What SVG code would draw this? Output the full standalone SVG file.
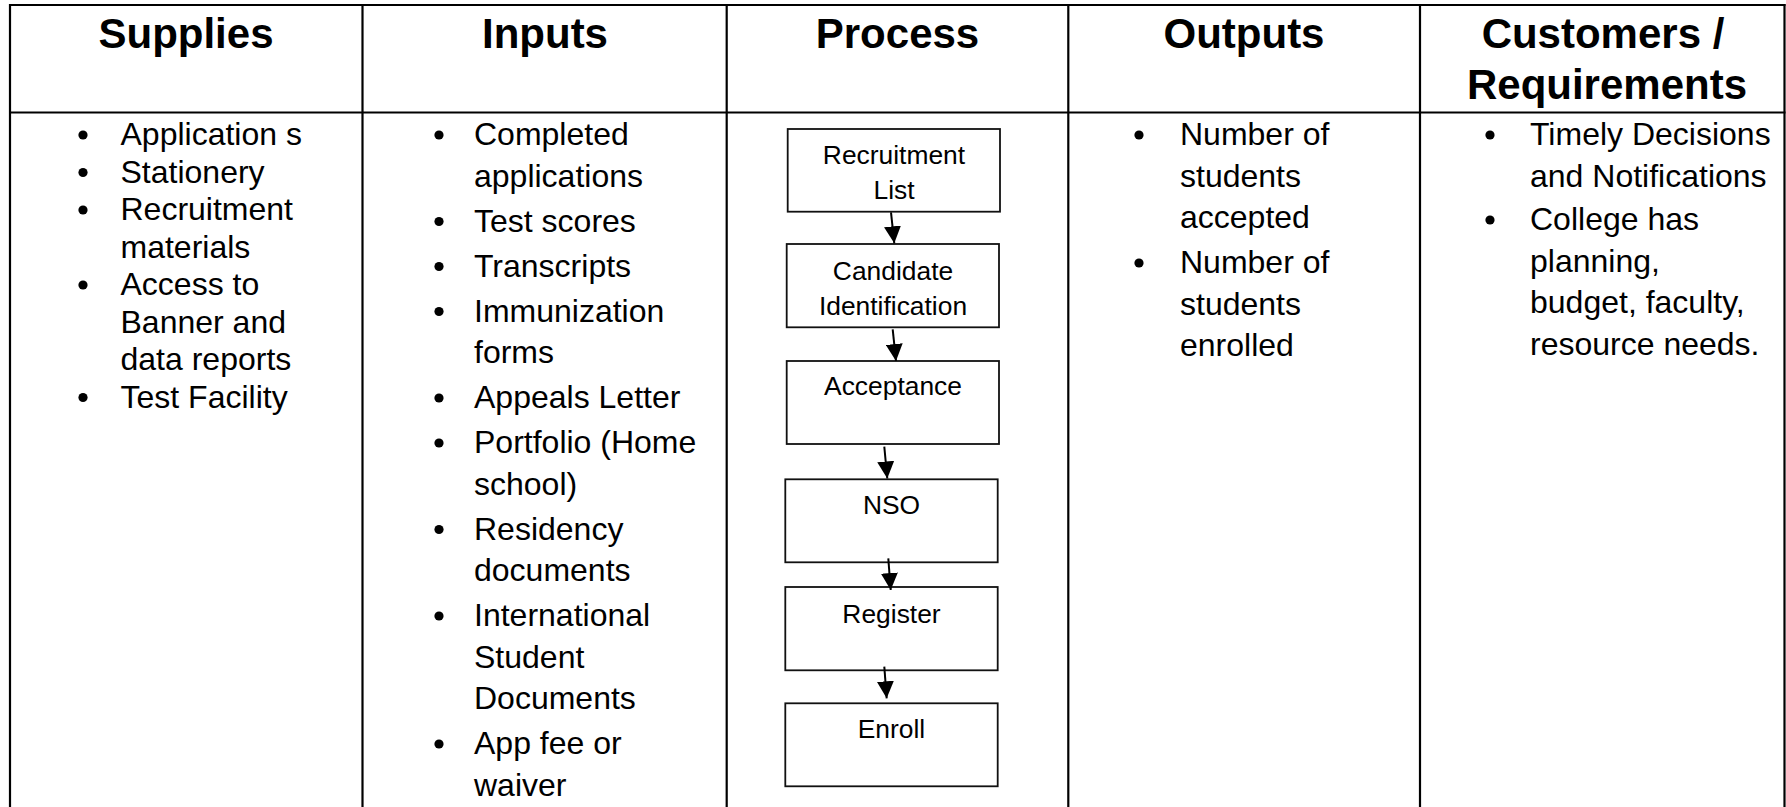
<svg xmlns="http://www.w3.org/2000/svg" width="1786" height="807" viewBox="0 0 1786 807">
<style>
.grid{stroke:#000;stroke-width:2.2;fill:none}
.hd{font-family:"Liberation Sans",Arial,sans-serif;font-weight:bold;font-size:42px;fill:#000;text-anchor:middle}
.tx{font-family:"Liberation Sans",Arial,sans-serif;font-size:32px;fill:#000}
.bx{fill:#fff;stroke:#111;stroke-width:1.8}
.bt{font-family:"Liberation Sans",Arial,sans-serif;font-size:26.4px;fill:#000;text-anchor:middle}
.ar{stroke:#000;stroke-width:2;fill:none}
.bu{fill:#000}
</style>
<defs>
<marker id="ah" markerUnits="userSpaceOnUse" markerWidth="17" markerHeight="17" viewBox="0 0 16 16" refX="16" refY="8" orient="auto">
<path d="M0,0 L16,8 L0,16 z" fill="#000"/>
</marker>
</defs>
<rect width="1786" height="807" fill="#fff"/>
<g id="table">
<line class="grid" x1="9" y1="5" x2="1785.5" y2="5"/>
<line class="grid" x1="9" y1="112.5" x2="1785.5" y2="112.5"/>
<line class="grid" x1="10" y1="4" x2="10" y2="807"/>
<line class="grid" x1="362.5" y1="4" x2="362.5" y2="807"/>
<line class="grid" x1="726.7" y1="4" x2="726.7" y2="807"/>
<line class="grid" x1="1068.3" y1="4" x2="1068.3" y2="807"/>
<line class="grid" x1="1420" y1="4" x2="1420" y2="807"/>
<line class="grid" x1="1784.5" y1="4" x2="1784.5" y2="807"/>
</g>
<g id="headers">
<text class="hd" x="186" y="48">Supplies</text>
<text class="hd" x="545" y="48">Inputs</text>
<text class="hd" x="897.5" y="48">Process</text>
<text class="hd" x="1244" y="48">Outputs</text>
<text class="hd" x="1603" y="48">Customers /</text>
<text class="hd" x="1607" y="98.5">Requirements</text>
</g>
<g id="supplies">
<circle class="bu" cx="83" cy="135" r="4.6"/>
<circle class="bu" cx="83" cy="172.5" r="4.6"/>
<circle class="bu" cx="83" cy="210" r="4.6"/>
<circle class="bu" cx="83" cy="285" r="4.6"/>
<circle class="bu" cx="83" cy="397.5" r="4.6"/>
<text class="tx" x="120.5" y="145">Application s</text>
<text class="tx" x="120.5" y="182.5">Stationery</text>
<text class="tx" x="120.5" y="220">Recruitment</text>
<text class="tx" x="120.5" y="257.5">materials</text>
<text class="tx" x="120.5" y="295">Access to</text>
<text class="tx" x="120.5" y="332.5">Banner and</text>
<text class="tx" x="120.5" y="370">data reports</text>
<text class="tx" x="120.5" y="407.5">Test Facility</text>
</g>
<g id="inputs">
<circle class="bu" cx="439" cy="135" r="4.6"/>
<circle class="bu" cx="439" cy="221.5" r="4.6"/>
<circle class="bu" cx="439" cy="266.5" r="4.6"/>
<circle class="bu" cx="439" cy="311.5" r="4.6"/>
<circle class="bu" cx="439" cy="398" r="4.6"/>
<circle class="bu" cx="439" cy="443" r="4.6"/>
<circle class="bu" cx="439" cy="529.5" r="4.6"/>
<circle class="bu" cx="439" cy="616" r="4.6"/>
<circle class="bu" cx="439" cy="744" r="4.6"/>
<text class="tx" x="474" y="145">Completed</text>
<text class="tx" x="474" y="186.5">applications</text>
<text class="tx" x="474" y="231.5">Test scores</text>
<text class="tx" x="474" y="276.5">Transcripts</text>
<text class="tx" x="474" y="321.5">Immunization</text>
<text class="tx" x="474" y="363">forms</text>
<text class="tx" x="474" y="408">Appeals Letter</text>
<text class="tx" x="474" y="453">Portfolio (Home</text>
<text class="tx" x="474" y="494.5">school)</text>
<text class="tx" x="474" y="539.5">Residency</text>
<text class="tx" x="474" y="581">documents</text>
<text class="tx" x="474" y="626">International</text>
<text class="tx" x="474" y="667.5">Student</text>
<text class="tx" x="474" y="709">Documents</text>
<text class="tx" x="474" y="754">App fee or</text>
<text class="tx" x="474" y="795.5">waiver</text>
</g>
<g id="proc-recruitment">
<rect class="bx" x="787.7" y="129" width="212.3" height="82.7"/>
<text class="bt" x="894" y="164">Recruitment</text>
<text class="bt" x="894" y="199.3">List</text>
</g>
<g id="proc-candidate">
<rect class="bx" x="786.7" y="244" width="212.3" height="83.3"/>
<text class="bt" x="893" y="280">Candidate</text>
<text class="bt" x="893" y="315">Identification</text>
</g>
<g id="proc-acceptance">
<rect class="bx" x="786.7" y="361" width="212.3" height="83"/>
<text class="bt" x="893" y="395">Acceptance</text>
</g>
<g id="proc-nso">
<rect class="bx" x="785.3" y="479.3" width="212.4" height="83"/>
<text class="bt" x="891.5" y="514.3">NSO</text>
</g>
<g id="proc-register">
<rect class="bx" x="785.3" y="587" width="212.4" height="83.3"/>
<text class="bt" x="891.5" y="622.7">Register</text>
</g>
<g id="proc-enroll">
<rect class="bx" x="785.3" y="703.3" width="212.4" height="83"/>
<text class="bt" x="891.5" y="738.3">Enroll</text>
</g>
<g id="connectors">
<line class="ar" x1="891" y1="212.3" x2="894.3" y2="243.3" marker-end="url(#ah)"/>
<line class="ar" x1="892.7" y1="329.3" x2="896" y2="361" marker-end="url(#ah)"/>
<line class="ar" x1="884.3" y1="446.7" x2="887.3" y2="478.5" marker-end="url(#ah)"/>
<line class="ar" x1="888.3" y1="558.3" x2="890.7" y2="590" marker-end="url(#ah)"/>
<line class="ar" x1="884.3" y1="666.7" x2="886.7" y2="698.3" marker-end="url(#ah)"/>
</g>
<g id="outputs">
<circle class="bu" cx="1139" cy="135" r="4.6"/>
<circle class="bu" cx="1139" cy="263" r="4.6"/>
<text class="tx" x="1180" y="145">Number of</text>
<text class="tx" x="1180" y="186.5">students</text>
<text class="tx" x="1180" y="228">accepted</text>
<text class="tx" x="1180" y="273">Number of</text>
<text class="tx" x="1180" y="314.5">students</text>
<text class="tx" x="1180" y="356">enrolled</text>
</g>
<g id="customers">
<circle class="bu" cx="1490" cy="135" r="4.6"/>
<circle class="bu" cx="1490" cy="220" r="4.6"/>
<text class="tx" x="1530" y="145">Timely Decisions</text>
<text class="tx" x="1530" y="186.5">and Notifications</text>
<text class="tx" x="1530" y="230">College has</text>
<text class="tx" x="1530" y="271.5">planning,</text>
<text class="tx" x="1530" y="313">budget, faculty,</text>
<text class="tx" x="1530" y="355">resource needs.</text>
</g>
</svg>
